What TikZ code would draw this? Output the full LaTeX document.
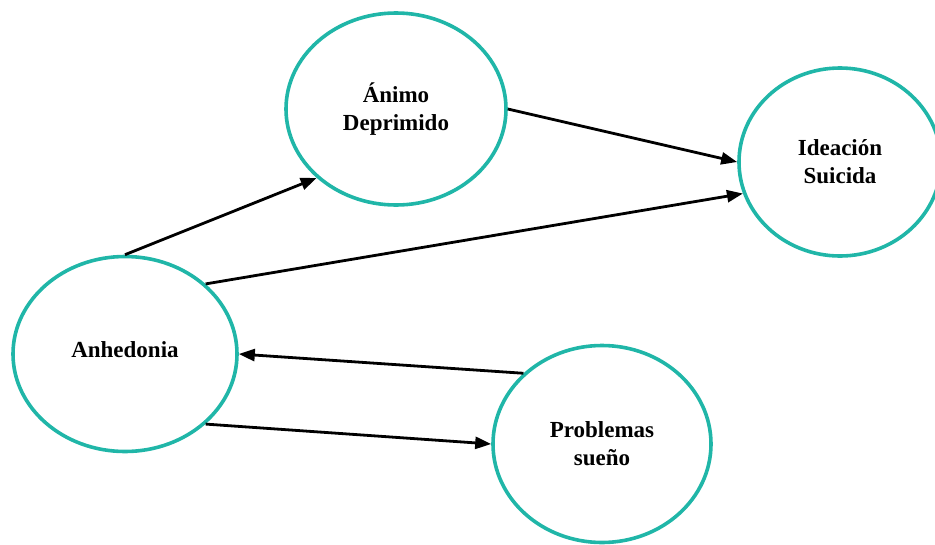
\documentclass[tikz,border=0pt]{standalone}
\usepackage{fontspec}
\setmainfont{Liberation Serif}
\usetikzlibrary{shapes.geometric,arrows.meta}
\definecolor{teal1}{RGB}{32,182,168}
\tikzset{
  circ/.style={ellipse, draw=teal1, line width=3.6pt, inner sep=0pt, align=center,
    font=\fontsize{23}{28}\selectfont\bfseries},
  conn/.style={line width=2.8pt, -{Triangle[length=16pt,width=12pt]}}
}
\begin{document}
\begin{tikzpicture}[x=1pt,y=-1pt]
\useasboundingbox (0,0) rectangle (935,544);
\node[circ, minimum width=220pt, minimum height=192pt] (animo) at (396,109) {Ánimo\\Deprimido};
\node[circ, minimum width=202pt, minimum height=188pt] (idea) at (840,162) {Ideación\\Suicida};
\node[circ, minimum width=224pt, minimum height=195pt] (anh) at (125,354) {\raisebox{8pt}{Anhedonia}};
\node[circ, minimum width=218pt, minimum height=197pt] (prob) at (602,444) {Problemas\\sueño};
\draw[conn] (anh.north) -- (animo.221.9);
\draw[conn] (animo.0) -- (idea.180);
\draw[conn] (anh.41) -- (idea.198.2);
\draw[conn] (prob.138) -- (anh.0);
\draw[conn] (anh.-41.5) -- (prob.180);
\end{tikzpicture}
\end{document}
